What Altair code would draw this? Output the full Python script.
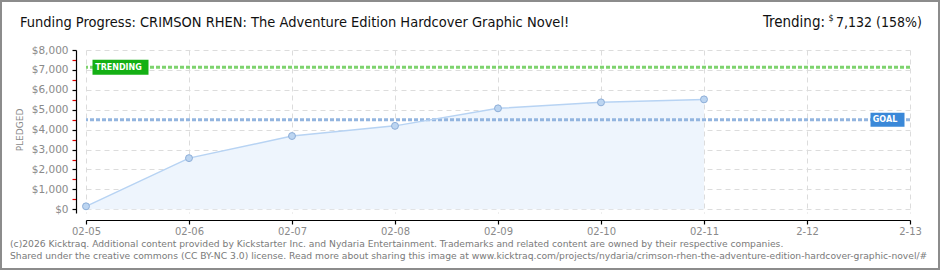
import altair as alt
import pandas as pd

# ---------------- data ----------------
x_labels = ["02-05", "02-06", "02-07", "02-08", "02-09", "02-10", "02-11", "2-12", "2-13"]
dates = ["02-05", "02-06", "02-07", "02-08", "02-09", "02-10", "02-11"]
pledged = [150, 2570, 3680, 4190, 5070, 5370, 5520]
trending_value = 7132
goal_value = 4500
y_ticks = list(range(0, 8001, 500))

title_text = "Funding Progress: CRIMSON RHEN: The Adventure Edition Hardcover Graphic Novel!"
trend_label = "Trending:"
trend_amount = "7,132 (158%)"
footer1 = ("(c)2026 Kicktraq. Additional content provided by Kickstarter Inc. and Nydaria Entertainment. "
           "Trademarks and related content are owned by their respective companies.")
footer2 = ("Shared under the creative commons (CC BY-NC 3.0) license. Read more about sharing this image at "
           "www.kicktraq.com/projects/nydaria/crimson-rhen-the-adventure-edition-hardcover-graphic-novel/#")

df = pd.DataFrame({"date": dates, "pledged": pledged})

W, H = 824, 163
PAD = {"left": 86, "top": 50, "right": 30, "bottom": 57}

LABEL_FONT = "DejaVu Sans"
GRAY = "#8a8a8a"

x_scale = alt.Scale(type="point", domain=x_labels, padding=0)
y_scale = alt.Scale(domain=[-186, 8000], nice=False, zero=False)

x_axis = alt.Axis(
    title=None, offset=7, domain=True, domainColor="#000", domainWidth=1.2,
    ticks=True, tickColor="#000", tickSize=4, tickWidth=1.2,
    labelFont=LABEL_FONT, labelFontSize=10, labelColor=GRAY, labelPadding=2,
    grid=True, gridColor="#dcdcdc", gridDash=[5, 4], labelAngle=0,
)
y_axis = alt.Axis(
    title=None, offset=10, values=y_ticks,
    labelExpr="datum.value % 1000 === 0 ? '$' + format(datum.value, ',') : ''",
    domain=True, domainColor="#000", domainWidth=1.2,
    ticks=True, tickSize=4, tickWidth=1.2,
    tickColor={"condition": {"test": "datum.value % 1000 === 0", "value": "#000"}, "value": "#e00000"},
    gridOpacity={"condition": {"test": "datum.value % 1000 === 0", "value": 1}, "value": 0},
    labelFont=LABEL_FONT, labelFontSize=10.5, labelColor=GRAY, labelPadding=4,
    grid=True, gridColor="#dcdcdc", gridDash=[5, 4],
)

X = alt.X("date:O", scale=x_scale, axis=x_axis)
Y = alt.Y("pledged:Q", scale=y_scale, axis=y_axis)

area = alt.Chart(df).mark_area(color="#eef5fd", opacity=1).encode(x=X, y=Y)
line = alt.Chart(df).mark_line(color="#b7d3f3", strokeWidth=1.5).encode(x=X, y=Y)
pts = alt.Chart(df).mark_point(
    shape="circle", filled=True, size=48, fill="#bcd5f1", stroke="#8daed8", strokeWidth=1, opacity=1
).encode(x=X, y=Y)

ref = pd.DataFrame({"pledged": [trending_value], "name": ["TRENDING"]})
goal = pd.DataFrame({"pledged": [goal_value], "name": ["GOAL"]})
Yr = alt.Y("pledged:Q", scale=y_scale, axis=y_axis)

trend_rule = alt.Chart(ref).mark_rule(color="#7ed36e", strokeWidth=3, strokeDash=[4, 2]).encode(y=Yr)
goal_rule = alt.Chart(goal).mark_rule(color="#93b5df", strokeWidth=3, strokeDash=[4, 2]).encode(y=Yr)

trend_box = alt.Chart(ref).mark_point(
    shape="M-1,-0.27H1V0.27H-1Z", size=3136, filled=True, fill="#14b014", opacity=1, strokeWidth=0
).encode(x=alt.value(34.5), y=Yr)
trend_txt = alt.Chart(ref).mark_text(
    font=LABEL_FONT, fontSize=8, fontWeight="bold", color="white", align="center", baseline="middle", dy=0.5
).encode(x=alt.value(32.5), y=Yr, text="name:N")

goal_box = alt.Chart(goal).mark_point(
    shape="M-1,-0.41H1V0.41H-1Z", size=1156, filled=True, fill="#3a88d8", opacity=1, strokeWidth=0
).encode(x=alt.value(801.5), y=Yr)
goal_txt = alt.Chart(goal).mark_text(
    font=LABEL_FONT, fontSize=8, fontWeight="bold", color="white", align="center", baseline="middle", dy=0.5
).encode(x=alt.value(799), y=Yr, text="name:N")


def txt(s, x, y, size, color, align="left", font="DejaVu Sans", angle=0, weight="normal"):
    return alt.Chart(pd.DataFrame({"t": [s]})).mark_text(
        font=font, fontSize=size, color=color, align=align, baseline="alphabetic", angle=angle,
        fontWeight=weight,
    ).encode(x=alt.value(x), y=alt.value(y), text="t:N")


TITLE_FONT = "Liberation Sans Narrow, DejaVu Sans Condensed, sans-serif"
title = txt(title_text, -66, -23, 14.5, "#111", font=TITLE_FONT)
trend1 = txt(trend_label, 739, -23, 15, "#111", align="right", font=TITLE_FONT)
trend_dollar = txt("$", 745, -29, 9, "#111", align="center", font=TITLE_FONT)
trend2 = txt(trend_amount, 750, -23, 14, "#111", align="left", font=TITLE_FONT)
ytitle = alt.Chart(pd.DataFrame({"t": ["PLEDGED"]})).mark_text(
    font=LABEL_FONT, fontSize=9, color=GRAY, align="center", baseline="middle", angle=270
).encode(x=alt.value(-66), y=alt.value(80), text="t:N")
f1 = txt(footer1, -76, 197, 9.2, "#7a7a7a")
f2 = txt(footer2, -76, 209, 9.2, "#7a7a7a")

border = alt.Chart(pd.DataFrame({"a": [0]})).mark_rect(
    fill=None, stroke="#8c8c8c", strokeWidth=2
).encode(x=alt.value(-85), x2=alt.value(853), y=alt.value(-49), y2=alt.value(219))

chart = alt.layer(
    area, trend_rule, goal_rule, line, pts, trend_box, trend_txt, goal_box, goal_txt,
    title, trend1, trend_dollar, trend2, ytitle, f1, f2, border
).properties(
    width=W, height=H, autosize=alt.AutoSizeParams(type="none"), padding=PAD, background="white"
).configure_view(stroke=None)

chart.save("out.html", embed_options={"renderer": "svg", "actions": False})
